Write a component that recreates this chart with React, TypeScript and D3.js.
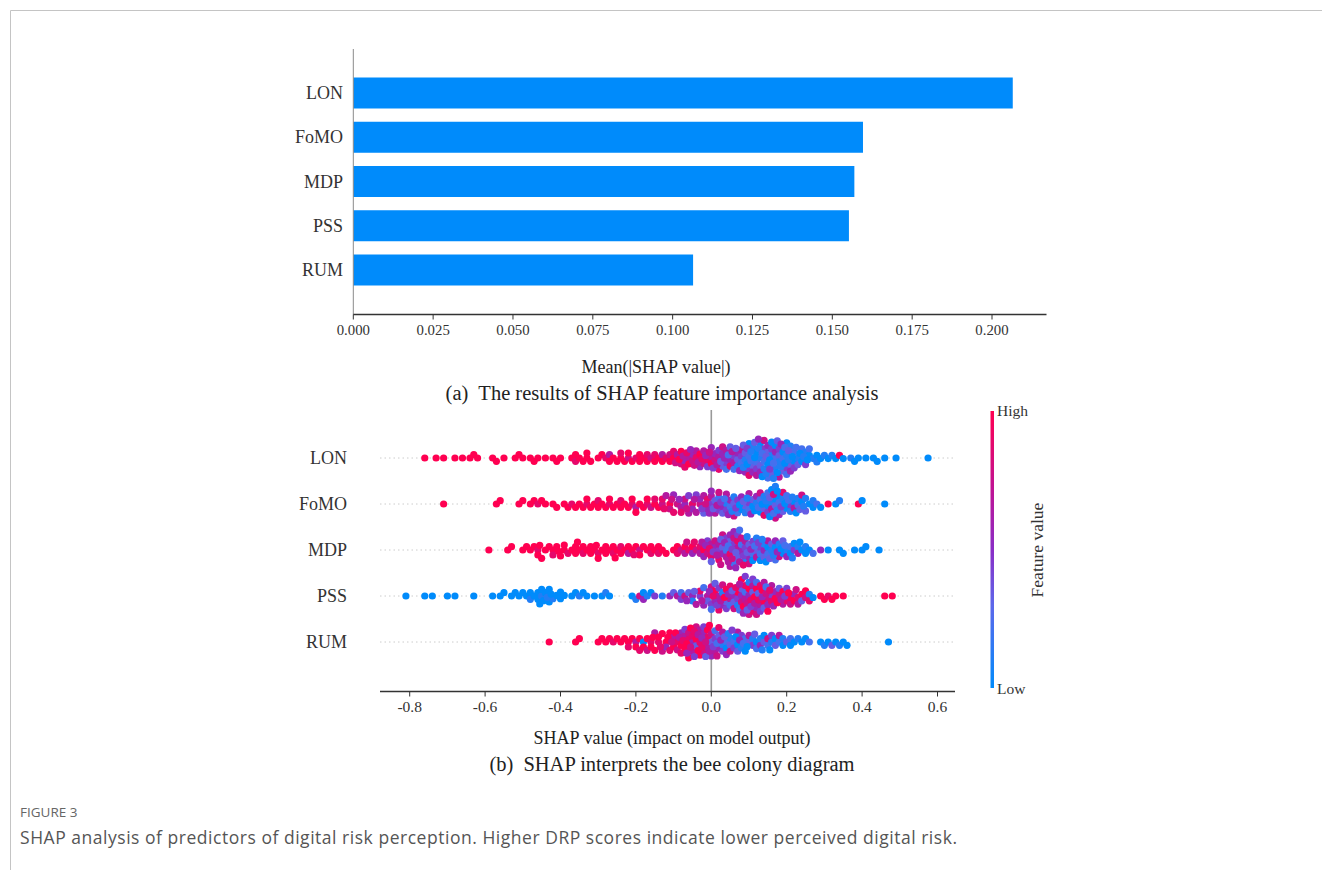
import React from 'react';
import * as d3 from 'd3';

// ---------------- data ----------------
const FEATURES = ['LON', 'FoMO', 'MDP', 'PSS', 'RUM'];
const MEAN_ABS_SHAP = [0.2065, 0.1596, 0.1569, 0.1552, 0.1064];
const BAR_TICKS = [0, 0.025, 0.05, 0.075, 0.1, 0.125, 0.15, 0.175, 0.2];
const SWARM_TICKS = [-0.8, -0.6, -0.4, -0.2, 0, 0.2, 0.4, 0.6];

// [SHAP value, feature level 0 (low) .. 9 (high)]
const LON_POINTS: [number, number][] = [
  [-0.76,9],[-0.73,9],[-0.71,9],[-0.68,9],[-0.66,9],[-0.64,9],[-0.63,9],[-0.62,9],[-0.58,9],[-0.57,9],[-0.55,9],
  [-0.52,9],[-0.51,9],[-0.50,9],[-0.48,9],[-0.47,9],[-0.46,9],[-0.44,9],[-0.42,9],[-0.41,9],[-0.40,9],
  [-0.37,9],[-0.36,9],[-0.36,8],[-0.35,9],[-0.34,9],[-0.33,9],[-0.33,9],[-0.32,9],[-0.30,9],[-0.29,9],[-0.28,8],
  [-0.27,6],[-0.27,9],[-0.26,9],[-0.25,9],[-0.24,9],[-0.24,8],[-0.23,9],[-0.22,7],[-0.22,9],[-0.21,9],[-0.20,8],
  [-0.19,9],[-0.19,9],[-0.18,9],[-0.17,8],[-0.17,9],[-0.16,7],[-0.15,9],[-0.15,8],[-0.14,9],[-0.13,6],[-0.13,9],
  [-0.12,8],[-0.11,9],[-0.11,7],[-0.10,9],[-0.10,8],[-0.09,6],[-0.08,7],[-0.08,9],[-0.07,5],[-0.07,8],[-0.06,6],
  [-0.06,9],[-0.05,7],[-0.05,5],[-0.04,8],[-0.04,6],[-0.03,9],[-0.03,5],[-0.02,7],[-0.02,6],[-0.01,8],[-0.01,4],
  [0.00,6],[0.00,9],[0.00,5],[0.01,7],[0.01,5],[0.02,6],[0.02,4],[0.02,8],[0.03,5],[0.03,3],[0.03,7],[0.04,4],
  [0.04,6],[0.04,2],[0.05,5],[0.05,8],[0.05,3],[0.06,4],[0.06,6],[0.06,2],[0.07,3],[0.07,5],[0.07,1],[0.08,4],
  [0.08,2],[0.08,6],[0.09,1],[0.09,3],[0.09,5],[0.10,2],[0.10,4],[0.10,0],[0.10,8],[0.11,3],[0.11,1],[0.11,5],
  [0.12,2],[0.12,0],[0.12,4],[0.12,6],[0.13,1],[0.13,3],[0.13,5],[0.13,0],[0.14,2],[0.14,4],[0.14,1],[0.14,7],
  [0.15,3],[0.15,0],[0.15,5],[0.15,2],[0.16,1],[0.16,4],[0.16,0],[0.16,3],[0.17,2],[0.17,5],[0.17,1],[0.17,0],
  [0.18,3],[0.18,1],[0.18,4],[0.18,6],[0.19,2],[0.19,0],[0.19,3],[0.20,1],[0.20,4],[0.20,0],[0.20,2],[0.21,3],
  [0.21,1],[0.21,5],[0.22,0],[0.22,2],[0.22,4],[0.23,1],[0.23,3],[0.24,0],[0.24,2],[0.25,1],[0.25,4],[0.26,0],
  [0.26,2],[0.27,1],[0.28,0],[0.28,1],[0.29,0],[0.30,1],[0.31,0],[0.32,1],[0.33,0],[0.34,9],[0.35,0],[0.37,1],
  [0.38,0],[0.39,0],[0.41,0],[0.43,0],[0.44,0],[0.46,0],[0.49,0],[0.575,0],
  [-0.095,7],[-0.085,9],[-0.075,6],[-0.065,8],[-0.055,5],[-0.045,7],[-0.035,6],[-0.025,8],[-0.015,5],[-0.005,7],
  [0.005,4],[0.015,6],[0.025,3],[0.035,5],[0.045,2],[0.055,6],[0.065,3],[0.075,5],[0.085,1],[0.085,3],[0.095,0],
  [0.095,4],[0.105,2],[0.105,1],[0.115,0],[0.115,3],[0.125,1],[0.125,5],[0.135,2],[0.135,0],[0.145,3],[0.145,1],
  [0.155,0],[0.155,4],[0.165,2],[0.165,1],[0.175,0],[0.175,3],[0.185,1],[0.185,5],[0.195,0],[0.195,2],[0.205,1],
  [0.205,3],[0.215,0],[0.225,2],[0.235,0],[0.245,1],[0.255,0],
];

const FOMO_POINTS: [number, number][] = [
  [-0.71,9],[-0.57,9],[-0.56,9],[-0.51,9],[-0.50,9],[-0.48,9],[-0.47,9],[-0.46,8],[-0.45,9],[-0.44,9],[-0.42,9],
  [-0.41,9],[-0.39,9],[-0.38,9],[-0.37,8],[-0.36,9],[-0.35,9],[-0.34,9],[-0.33,8],[-0.33,9],[-0.32,9],[-0.31,9],
  [-0.30,8],[-0.30,9],[-0.29,9],[-0.28,9],[-0.27,8],[-0.27,9],[-0.26,9],[-0.25,9],[-0.24,8],[-0.24,9],[-0.23,9],
  [-0.22,9],[-0.21,8],[-0.21,9],[-0.20,6],[-0.20,9],[-0.19,9],[-0.18,9],[-0.17,8],[-0.17,9],[-0.16,7],[-0.15,9],
  [-0.15,8],[-0.14,9],[-0.13,7],[-0.13,8],[-0.12,6],[-0.11,9],[-0.11,7],[-0.10,8],[-0.10,5],[-0.09,7],[-0.08,6],
  [-0.08,8],[-0.07,5],[-0.07,7],[-0.06,4],[-0.06,6],[-0.05,8],[-0.05,5],[-0.04,6],[-0.04,4],[-0.03,7],[-0.03,5],
  [-0.02,6],[-0.02,3],[-0.01,5],[-0.01,8],[0.00,4],[0.00,6],[0.00,5],[0.01,3],[0.01,6],[0.02,4],[0.02,2],[0.02,7],
  [0.03,5],[0.03,3],[0.04,1],[0.04,4],[0.04,6],[0.05,2],[0.05,5],[0.06,3],[0.06,1],[0.06,7],[0.07,4],[0.07,2],
  [0.08,0],[0.08,5],[0.09,3],[0.09,1],[0.10,4],[0.10,2],[0.10,6],[0.11,0],[0.11,3],[0.12,1],[0.12,5],[0.13,2],
  [0.13,0],[0.13,7],[0.14,3],[0.14,1],[0.14,8],[0.15,0],[0.15,4],[0.15,2],[0.16,1],[0.16,6],[0.16,0],[0.17,3],
  [0.17,0],[0.17,7],[0.17,1],[0.18,2],[0.18,0],[0.18,5],[0.19,1],[0.19,3],[0.19,8],[0.20,0],[0.20,2],[0.21,4],
  [0.21,1],[0.22,0],[0.22,6],[0.23,2],[0.23,1],[0.24,0],[0.24,7],[0.25,1],[0.25,3],[0.26,0],[0.27,1],[0.27,0],
  [0.28,2],[0.29,0],[0.31,9],[0.33,0],[0.34,1],[0.39,9],[0.40,0],[0.46,0],
  [-0.125,8],[-0.105,7],[-0.085,5],[-0.065,7],[-0.045,6],[-0.025,4],[-0.015,7],[-0.005,5],[0.005,3],[0.015,6],
  [0.025,4],[0.035,2],[0.045,5],[0.055,1],[0.065,4],[0.075,0],[0.085,3],[0.095,1],[0.105,5],[0.115,0],[0.125,2],
  [0.135,0],[0.145,1],[0.155,3],[0.155,0],[0.165,2],[0.165,7],[0.175,1],[0.175,0],[0.185,4],[0.195,0],[0.205,2],
  [0.215,1],[0.225,0],[0.235,3],[0.245,1],
];

const MDP_POINTS: [number, number][] = [
  [-0.59,9],[-0.54,9],[-0.53,9],[-0.50,9],[-0.49,9],[-0.48,9],[-0.47,9],[-0.46,8],[-0.46,9],[-0.45,9],[-0.44,9],
  [-0.43,9],[-0.42,9],[-0.42,8],[-0.41,9],[-0.40,9],[-0.39,9],[-0.39,9],[-0.38,8],[-0.37,9],[-0.36,9],[-0.36,9],
  [-0.35,9],[-0.34,9],[-0.34,8],[-0.33,9],[-0.32,9],[-0.32,9],[-0.31,9],[-0.30,8],[-0.30,9],[-0.29,9],[-0.28,9],
  [-0.28,9],[-0.27,9],[-0.26,8],[-0.26,9],[-0.25,9],[-0.24,9],[-0.24,8],[-0.23,9],[-0.22,9],[-0.22,6],[-0.21,9],
  [-0.20,9],[-0.19,7],[-0.19,9],[-0.18,9],[-0.17,9],[-0.16,8],[-0.16,9],[-0.15,9],[-0.14,9],[-0.14,8],[-0.13,9],
  [-0.12,9],[-0.10,9],[-0.09,8],[-0.09,9],[-0.08,7],[-0.07,9],[-0.07,6],[-0.06,8],[-0.05,9],[-0.05,5],[-0.04,7],
  [-0.03,8],[-0.03,6],[-0.02,9],[-0.02,5],[-0.01,7],[-0.01,4],[0.00,6],[0.00,8],[0.00,3],[0.01,5],[0.01,7],
  [0.02,4],[0.02,6],[0.02,8],[0.03,3],[0.03,5],[0.03,7],[0.04,2],[0.04,6],[0.04,4],[0.05,8],[0.05,3],[0.05,5],
  [0.05,6],[0.06,4],[0.06,7],[0.06,2],[0.06,5],[0.07,6],[0.07,3],[0.07,8],[0.07,4],[0.08,5],[0.08,2],[0.08,7],
  [0.09,4],[0.09,6],[0.09,1],[0.10,3],[0.10,5],[0.10,7],[0.11,2],[0.11,4],[0.11,0],[0.12,3],[0.12,6],[0.12,1],
  [0.13,4],[0.13,2],[0.13,0],[0.14,5],[0.14,1],[0.14,3],[0.15,0],[0.15,2],[0.15,6],[0.16,1],[0.16,3],[0.17,0],
  [0.17,5],[0.17,2],[0.18,1],[0.18,7],[0.19,0],[0.19,3],[0.20,1],[0.20,5],[0.21,0],[0.21,2],[0.22,4],[0.22,0],
  [0.23,1],[0.23,6],[0.24,0],[0.25,1],[0.25,0],[0.26,0],[0.27,2],[0.29,5],[0.31,0],[0.34,0],[0.35,0],[0.38,0],
  [0.40,0],[0.41,0],[0.445,0],
  [-0.455,9],[-0.405,9],[-0.355,9],[-0.305,9],[-0.255,9],[-0.205,8],
  [-0.065,7],[-0.045,8],[-0.025,6],[-0.015,5],[-0.005,8],[0.005,4],[0.015,6],[0.025,3],[0.025,7],[0.035,5],
  [0.045,2],[0.045,6],[0.055,4],[0.055,7],[0.065,3],[0.065,5],[0.075,6],[0.075,2],[0.085,4],[0.085,8],[0.095,3],
  [0.095,1],[0.105,5],[0.115,2],[0.125,4],[0.135,1],[0.145,0],[0.155,3],[0.165,1],[0.175,5],[0.185,0],[0.195,2],
  [0.215,1],[0.235,0],
];

const PSS_POINTS: [number, number][] = [
  [-0.81,0],[-0.76,0],[-0.74,0],[-0.70,0],[-0.68,0],[-0.63,0],[-0.58,0],[-0.56,0],[-0.55,0],[-0.53,0],[-0.52,0],
  [-0.51,0],[-0.50,0],[-0.49,0],[-0.48,0],[-0.48,1],[-0.47,0],[-0.46,0],[-0.46,0],[-0.45,1],[-0.45,0],[-0.44,0],
  [-0.43,0],[-0.43,0],[-0.42,1],[-0.41,0],[-0.40,0],[-0.40,0],[-0.39,0],[-0.37,0],[-0.36,0],[-0.35,1],[-0.34,0],
  [-0.33,0],[-0.31,0],[-0.29,0],[-0.28,1],[-0.27,0],[-0.21,0],[-0.20,1],[-0.19,7],[-0.18,5],[-0.18,0],[-0.17,1],
  [-0.16,0],[-0.15,4],[-0.13,1],[-0.11,5],[-0.10,3],[-0.09,6],[-0.08,2],[-0.08,4],[-0.07,7],[-0.06,3],[-0.05,5],
  [-0.05,1],[-0.04,6],[-0.03,4],[-0.03,8],[-0.02,2],[-0.02,5],[-0.01,6],[-0.01,3],[0.00,4],[0.00,7],[0.00,2],
  [0.01,5],[0.01,9],[0.01,3],[0.02,6],[0.02,4],[0.02,8],[0.03,1],[0.03,5],[0.03,7],[0.04,3],[0.04,9],[0.04,4],
  [0.05,6],[0.05,2],[0.05,8],[0.06,5],[0.06,3],[0.06,7],[0.07,4],[0.07,9],[0.07,1],[0.08,5],[0.08,7],[0.08,3],
  [0.08,9],[0.09,6],[0.09,2],[0.09,8],[0.09,4],[0.10,5],[0.10,9],[0.10,1],[0.10,7],[0.11,3],[0.11,6],[0.11,8],
  [0.11,4],[0.12,9],[0.12,5],[0.12,2],[0.12,7],[0.13,6],[0.13,8],[0.13,4],[0.14,9],[0.14,3],[0.14,6],[0.15,7],
  [0.15,5],[0.15,9],[0.16,4],[0.16,8],[0.16,6],[0.17,9],[0.17,5],[0.18,7],[0.18,3],[0.19,9],[0.19,6],[0.20,8],
  [0.20,4],[0.21,9],[0.21,7],[0.22,5],[0.22,9],[0.23,8],[0.23,6],[0.24,9],[0.24,3],[0.25,7],[0.25,9],[0.26,1],
  [0.26,8],[0.27,0],[0.29,9],[0.30,9],[0.31,8],[0.32,9],[0.33,9],[0.35,9],[0.46,9],[0.48,9],
  [-0.455,0],[-0.445,0],[-0.435,1],[-0.425,0],
  [-0.065,5],[-0.045,3],[-0.025,6],[-0.005,5],[0.005,8],[0.015,4],[0.025,6],[0.035,9],[0.045,5],[0.055,3],
  [0.065,8],[0.075,6],[0.075,2],[0.085,9],[0.085,5],[0.095,7],[0.095,3],[0.105,8],[0.105,4],[0.115,9],[0.115,6],
  [0.125,3],[0.125,8],[0.135,5],[0.135,9],[0.145,7],[0.145,2],[0.155,8],[0.165,5],[0.175,9],[0.185,6],[0.195,4],
  [0.205,9],[0.225,7],
];

const RUM_POINTS: [number, number][] = [
  [-0.43,9],[-0.36,9],[-0.35,9],[-0.30,9],[-0.29,9],[-0.28,9],[-0.27,9],[-0.26,8],[-0.25,9],[-0.24,9],[-0.23,9],
  [-0.22,9],[-0.22,8],[-0.21,9],[-0.20,6],[-0.20,9],[-0.19,9],[-0.19,8],[-0.18,0],[-0.18,9],[-0.17,9],[-0.17,7],
  [-0.16,8],[-0.16,9],[-0.15,9],[-0.15,6],[-0.14,8],[-0.14,9],[-0.13,9],[-0.13,7],[-0.12,9],[-0.12,5],[-0.11,8],
  [-0.11,9],[-0.10,6],[-0.10,9],[-0.09,8],[-0.09,7],[-0.08,9],[-0.08,5],[-0.08,8],[-0.07,6],[-0.07,9],[-0.07,4],
  [-0.06,8],[-0.06,7],[-0.06,9],[-0.05,5],[-0.05,8],[-0.05,6],[-0.04,9],[-0.04,3],[-0.04,7],[-0.03,8],[-0.03,6],
  [-0.03,9],[-0.02,5],[-0.02,7],[-0.02,4],[-0.01,8],[-0.01,6],[-0.01,9],[0.00,3],[0.00,7],[0.00,5],[0.01,4],
  [0.01,6],[0.01,2],[0.02,5],[0.02,3],[0.02,8],[0.03,1],[0.03,4],[0.03,6],[0.04,2],[0.04,0],[0.04,5],[0.05,3],
  [0.05,1],[0.05,7],[0.06,2],[0.06,4],[0.07,0],[0.07,3],[0.07,6],[0.08,1],[0.08,4],[0.09,2],[0.09,0],[0.10,3],
  [0.10,6],[0.11,1],[0.11,4],[0.12,0],[0.12,2],[0.13,5],[0.13,1],[0.14,3],[0.14,0],[0.15,2],[0.15,7],[0.16,1],
  [0.16,4],[0.17,0],[0.17,3],[0.18,2],[0.18,6],[0.19,1],[0.19,0],[0.20,3],[0.21,0],[0.21,2],[0.22,0],[0.23,1],
  [0.24,0],[0.25,0],[0.26,2],[0.29,0],[0.30,1],[0.31,0],[0.32,3],[0.33,0],[0.34,1],[0.35,0],[0.36,0],[0.47,0],
  [-0.155,9],[-0.135,8],[-0.115,9],[-0.105,7],[-0.095,9],[-0.085,6],[-0.075,8],[-0.065,9],[-0.065,5],[-0.055,7],
  [-0.055,9],[-0.045,8],[-0.045,4],[-0.035,6],[-0.035,9],[-0.025,5],[-0.025,8],[-0.015,7],[-0.015,3],[-0.005,6],
  [-0.005,9],[0.005,4],[0.015,2],[0.015,7],[0.025,5],[0.035,3],[0.045,1],[0.055,4],[0.065,0],[0.075,5],[0.085,2],
  [0.095,0],[0.115,3],[0.135,1],[0.155,0],
];

const SWARM_ROWS: [number, number][][] = [LON_POINTS, FOMO_POINTS, MDP_POINTS, PSS_POINTS, RUM_POINTS];

const CAPTION_LABEL = 'FIGURE 3';
const CAPTION_TEXT =
  'SHAP analysis of predictors of digital risk perception. Higher DRP scores indicate lower perceived digital risk.';

// ---------------- layout helpers ----------------
// deterministic greedy beeswarm: each dot takes the free vertical slot nearest the row centre
function beeswarmY(xs: number[], d: number): number[] {
  const n = xs.length;
  const order = d3.range(n).sort((a, b) => xs[a] - xs[b] || a - b);
  const ys = new Array(n).fill(0);
  const placed: number[] = [];
  let k = 0;
  for (const i of order) {
    const x = xs[i];
    const near = placed.filter((j) => Math.abs(xs[j] - x) < d);
    const cands = [0];
    for (const j of near) {
      const dx = xs[j] - x;
      const dy = Math.sqrt(d * d - dx * dx);
      cands.push(ys[j] + dy, ys[j] - dy);
    }
    const sgn = k % 2 === 0 ? 1 : -1;
    cands.sort((a, b) => Math.abs(a) - Math.abs(b) || sgn * (a - b));
    let y = 0;
    for (const c of cands) {
      if (near.every((j) => (xs[j] - x) ** 2 + (ys[j] - c) ** 2 >= d * d - 0.01)) {
        y = c;
        break;
      }
    }
    ys[i] = y;
    placed.push(i);
    k += 1;
  }
  return ys;
}

const colorScale = d3
  .scaleLinear<string>()
  .domain([0, 0.3, 0.5, 0.7, 1])
  .range(['#008bfb', '#5d67ea', '#8a2dc6', '#bb1598', '#ff0051'])
  .interpolate(d3.interpolateRgb);

export default function App() {
  const W = 1322;
  const H = 870;
  const serif = "'Liberation Serif', 'Times New Roman', serif";
  const sans = "'Open Sans', 'Noto Sans', sans-serif";
  const ink = '#333333';

  // ---- panel (a) ----
  const xBar = d3.scaleLinear().domain([0, 0.2]).range([353.3, 992]);
  const yBar = d3.scalePoint<string>().domain(FEATURES).range([93, 270]);
  const barH = 31;
  const barAxisY = 314.5;

  // ---- panel (b) ----
  const xSw = d3.scaleLinear().domain([-0.8, 0.6]).range([409.7, 937.5]);
  const ySw = d3.scalePoint<string>().domain(FEATURES).range([458, 642]);
  const swAxisY = 691.5;
  const swLeft = 380;
  const swRight = 955;
  const dotR = 3.6;
  const collide = 5;

  const gradStops = d3.range(0, 1.0001, 0.05);

  return (
    <svg
      width={W}
      height={H}
      viewBox={`0 0 ${W} ${H}`}
      style={{ position: 'absolute', left: 0, top: 0, background: '#fff' }}
    >
      <defs>
        <linearGradient id="cbar" x1="0" y1="1" x2="0" y2="0">
          {gradStops.map((t) => (
            <stop key={t} offset={t} stopColor={colorScale(t)} />
          ))}
        </linearGradient>
      </defs>
      <rect x={0} y={0} width={W} height={H} fill="#fff" />
      {/* frame */}
      <line x1={10.5} y1={10.5} x2={W} y2={10.5} stroke="#c4c4c4" strokeWidth={1} />
      <line x1={10.5} y1={10.5} x2={10.5} y2={H} stroke="#c4c4c4" strokeWidth={1} />

      {/* ================= panel (a) ================= */}
      <g>
        {FEATURES.map((f, i) => (
          <rect
            key={f}
            x={xBar(0)}
            y={(yBar(f) as number) - barH / 2}
            width={xBar(MEAN_ABS_SHAP[i]) - xBar(0)}
            height={barH}
            fill="#008bfb"
          />
        ))}
        <line x1={xBar(0)} y1={49} x2={xBar(0)} y2={barAxisY} stroke="#8a8a8a" strokeWidth={1} />
        <line x1={xBar(0)} y1={barAxisY} x2={1046.5} y2={barAxisY} stroke={ink} strokeWidth={1.4} />
        {BAR_TICKS.map((t) => (
          <g key={t}>
            <line x1={xBar(t)} y1={barAxisY} x2={xBar(t)} y2={barAxisY + 5} stroke={ink} strokeWidth={1} />
            <text
              x={xBar(t)}
              y={barAxisY + 20}
              textAnchor="middle"
              fontFamily={serif}
              fontSize={14.8}
              fill={ink}
            >
              {t.toFixed(3)}
            </text>
          </g>
        ))}
        {FEATURES.map((f) => (
          <text
            key={f}
            x={343}
            y={(yBar(f) as number) + 6}
            textAnchor="end"
            fontFamily={serif}
            fontSize={18}
            fill={ink}
          >
            {f}
          </text>
        ))}
        <text x={656} y={373} textAnchor="middle" fontFamily={serif} fontSize={18} fill="#222">
          Mean(|SHAP value|)
        </text>
        <text x={662} y={400} textAnchor="middle" fontFamily={serif} fontSize={20.5} fill="#222">
          <tspan>(a)</tspan>
          <tspan dx={10}>The results of SHAP feature importance analysis</tspan>
        </text>
      </g>

      {/* ================= panel (b) ================= */}
      <g>
        {FEATURES.map((f) => (
          <line
            key={f}
            x1={swLeft}
            y1={ySw(f)}
            x2={953}
            y2={ySw(f)}
            stroke="#cccccc"
            strokeWidth={1}
            strokeDasharray="1.5 3"
          />
        ))}
        <line x1={xSw(0)} y1={410} x2={xSw(0)} y2={swAxisY} stroke="#999999" strokeWidth={1.6} />
        {SWARM_ROWS.map((pts, r) => {
          const xs = pts.map((p) => xSw(p[0]));
          const offs = beeswarmY(xs, collide);
          const cy0 = ySw(FEATURES[r]) as number;
          return (
            <g key={FEATURES[r]}>
              {pts.map((p, i) => (
                <circle key={i} cx={xs[i]} cy={cy0 + offs[i]} r={dotR} fill={colorScale(p[1] / 9)} />
              ))}
            </g>
          );
        })}
        <line x1={swLeft} y1={swAxisY} x2={swRight} y2={swAxisY} stroke={ink} strokeWidth={1.4} />
        {SWARM_TICKS.map((t) => (
          <g key={t}>
            <line x1={xSw(t)} y1={swAxisY} x2={xSw(t)} y2={swAxisY + 5} stroke={ink} strokeWidth={1} />
            <text
              x={xSw(t)}
              y={swAxisY + 20}
              textAnchor="middle"
              fontFamily={serif}
              fontSize={15.5}
              fill={ink}
            >
              {t.toFixed(1)}
            </text>
          </g>
        ))}
        {FEATURES.map((f) => (
          <text
            key={f}
            x={347}
            y={(ySw(f) as number) + 6}
            textAnchor="end"
            fontFamily={serif}
            fontSize={18}
            fill={ink}
          >
            {f}
          </text>
        ))}
        <text x={672} y={744} textAnchor="middle" fontFamily={serif} fontSize={18} fill="#222">
          SHAP value (impact on model output)
        </text>
        <text x={672} y={771} textAnchor="middle" fontFamily={serif} fontSize={20.5} fill="#222">
          <tspan>(b)</tspan>
          <tspan dx={10}>SHAP interprets the bee colony diagram</tspan>
        </text>

        {/* colour bar */}
        <rect x={990.5} y={411} width={3.5} height={277} fill="url(#cbar)" />
        <text x={997} y={416} fontFamily={serif} fontSize={15.5} fill={ink}>
          High
        </text>
        <text x={997} y={694} fontFamily={serif} fontSize={15.5} fill={ink}>
          Low
        </text>
        <text
          transform="translate(1043,550) rotate(-90)"
          textAnchor="middle"
          fontFamily={serif}
          fontSize={17.5}
          fill={ink}
        >
          Feature value
        </text>
      </g>

      {/* caption */}
      <text x={20} y={817} fontFamily={sans} fontSize={13.5} fill="#666">
        {CAPTION_LABEL}
      </text>
      <text
        x={20}
        y={844}
        fontFamily={sans}
        fontSize={17.5}
        fill="#555"
        textLength={937}
        lengthAdjust="spacing"
      >
        {CAPTION_TEXT}
      </text>
    </svg>
  );
}
